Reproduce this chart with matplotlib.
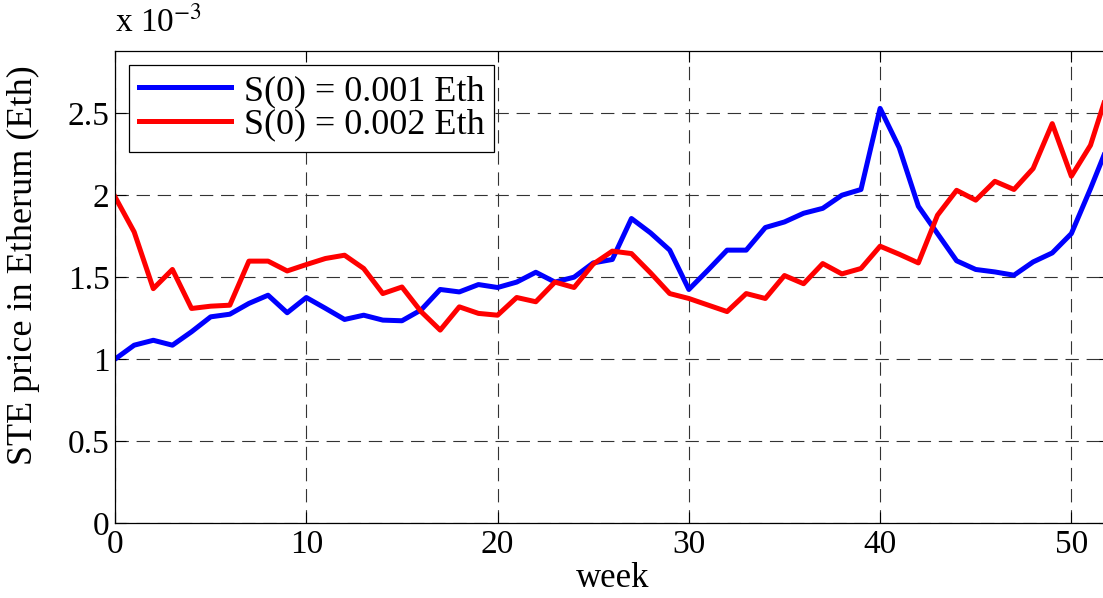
import matplotlib.pyplot as plt

plt.rcParams['font.family'] = ['Liberation Serif', 'DejaVu Serif']
plt.rcParams['mathtext.fontset'] = 'stix'

# weekly STE price, in units of 1e-3 Eth
weeks = list(range(53))
price_s001 = [1.00, 1.085, 1.115, 1.085, 1.167, 1.258, 1.274, 1.34, 1.39, 1.283,
              1.376, 1.31, 1.242, 1.268, 1.238, 1.234, 1.30, 1.425, 1.41, 1.455,
              1.437, 1.47, 1.53, 1.47, 1.50, 1.587, 1.608, 1.858, 1.77, 1.665,
              1.425, 1.543, 1.665, 1.665, 1.803, 1.837, 1.89, 1.92, 2.00, 2.035,
              2.53, 2.29, 1.933, 1.766, 1.60, 1.547, 1.532, 1.512, 1.593, 1.648,
              1.766, 2.04, 2.33]
price_s002 = [1.99, 1.776, 1.43, 1.547, 1.309, 1.323, 1.329, 1.598, 1.598, 1.538,
              1.577, 1.614, 1.634, 1.553, 1.40, 1.44, 1.29, 1.177, 1.319, 1.279,
              1.268, 1.376, 1.35, 1.47, 1.437, 1.58, 1.659, 1.644, 1.526, 1.40,
              1.37, 1.33, 1.29, 1.40, 1.37, 1.51, 1.46, 1.583, 1.52, 1.553,
              1.689, 1.64, 1.587, 1.878, 2.03, 1.97, 2.085, 2.035, 2.163, 2.437,
              2.116, 2.305, 2.67]

xticks = [0, 10, 20, 30, 40, 50]
yticks = [0, 0.5, 1, 1.5, 2, 2.5]
ytick_labels = ['0', '0.5', '1', '1.5', '2', '2.5']

fig = plt.figure(figsize=(11.03, 5.98), dpi=100)
# axes runs slightly past the right edge of the figure, like the cropped original
ax = fig.add_axes([0.1043, 0.1254, 0.9017, 0.7893])

ax.plot(weeks, price_s001, color='#0000ff', lw=3.6, label='S(0) = 0.001 Eth')
ax.plot(weeks, price_s002, color='#ff0000', lw=3.6, label='S(0) = 0.002 Eth')

ax.set_xlim(0, 52)
ax.set_ylim(0, 2.88)
ax.set_xticks(xticks)
ax.set_yticks(yticks)
ax.set_yticklabels(ytick_labels)
ax.tick_params(direction='in', length=8, width=0.8, top=True, right=True,
               labelsize=24)
ax.tick_params(axis='x', pad=5)
ax.tick_params(axis='y', pad=4)
ax.grid(True, color='0.2', linestyle=(0, (12, 7)), linewidth=0.8)
for sp in ax.spines.values():
    sp.set_linewidth(0.9)

ax.set_xlabel('week', fontsize=25, labelpad=1)
ax.set_ylabel('STE price in Etherum (Eth)', fontsize=26)
ax.yaxis.set_label_coords(-0.0754, 0.547)

ax.legend(loc='upper left', fontsize=26, handlelength=2.55, frameon=True,
          fancybox=False, framealpha=1, edgecolor='black',
          borderaxespad=0.38, borderpad=0.28, labelspacing=0.0,
          handletextpad=0.35)
ax.get_legend().get_frame().set_linewidth(0.9)

fig.text(0.104, 0.935, r'x 10$^{-3}$', fontsize=24, ha='left', va='bottom')

fig.savefig('out.png', dpi=100)
